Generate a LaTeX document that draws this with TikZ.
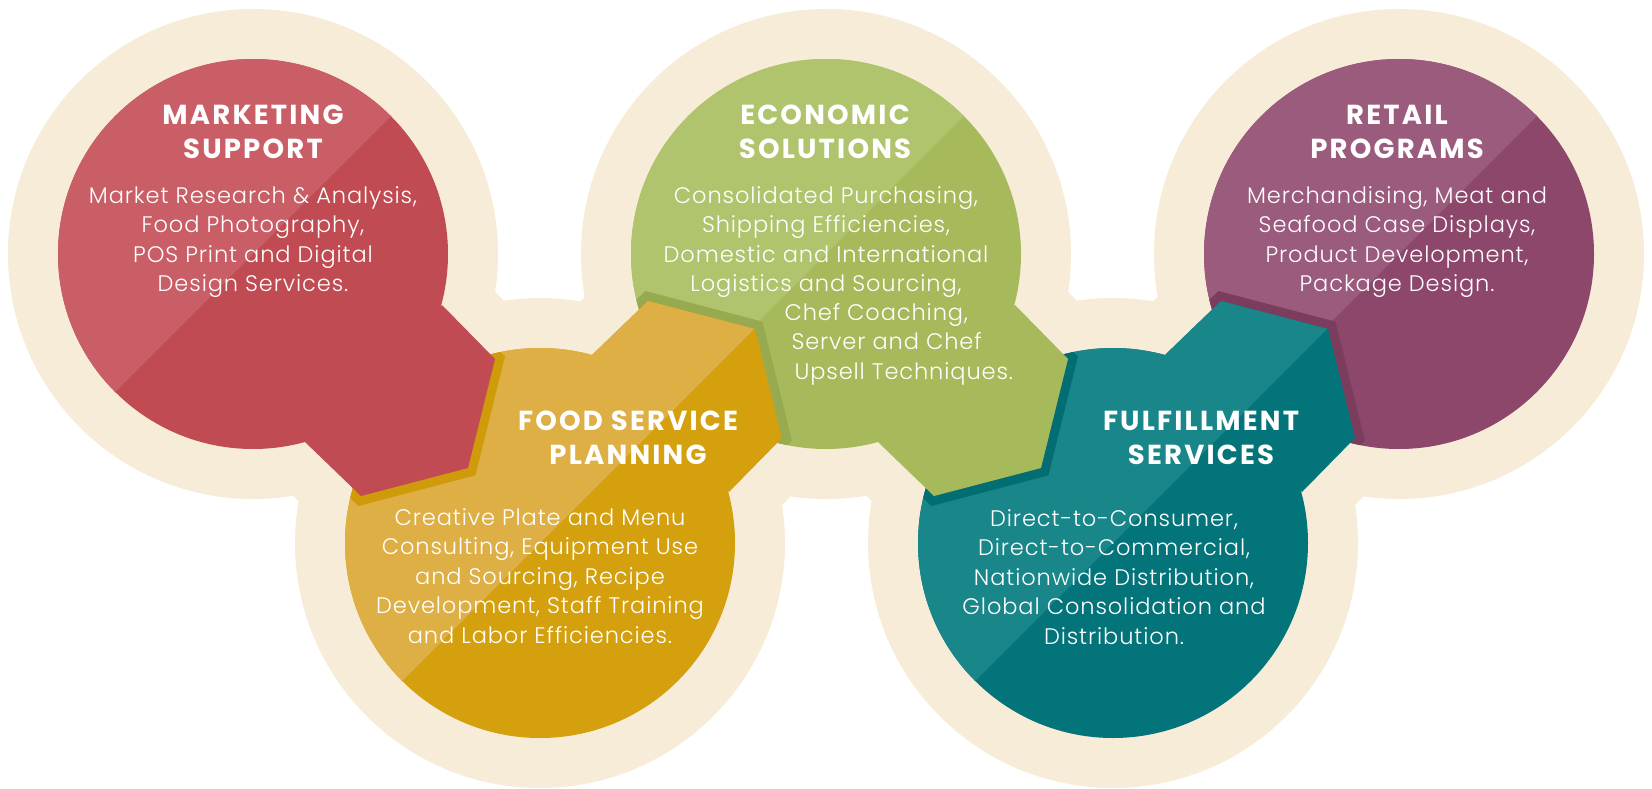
\documentclass[tikz,border=0pt]{standalone}
\usepackage{fontspec}
\setmainfont{Poppins}
\newfontfamily\lightfont{Poppins Light}[LetterSpace=4]
\newfontfamily\headfont{Poppins}[LetterSpace=8]
\usetikzlibrary{positioning}

\definecolor{cream}{HTML}{F6ECD7}
\definecolor{redL}{HTML}{C95E66}
\definecolor{redD}{HTML}{C14B52}
\definecolor{yelL}{HTML}{DEAF45}
\definecolor{yelD}{HTML}{D4A00E}
\definecolor{yelB}{HTML}{CF9B0B}
\definecolor{grnL}{HTML}{B0C46E}
\definecolor{grnD}{HTML}{A6BA5C}
\definecolor{grnB}{HTML}{97AA50}
\definecolor{tealL}{HTML}{19868A}
\definecolor{tealD}{HTML}{037479}
\definecolor{tealB}{HTML}{026E73}
\definecolor{purL}{HTML}{9B5B7D}
\definecolor{purD}{HTML}{8C476A}
\definecolor{purB}{HTML}{7A3D5E}

% pointer of a bubble, down-right or up-right
\newcommand{\tipdown}[1]{([shift={(189,51)}]#1.center) -- ([shift={(242,105)}]#1.center) -- ([shift={(215,214)}]#1.center) -- ([shift={(108,242)}]#1.center) -- ([shift={(52,188)}]#1.center) -- cycle}
\newcommand{\tipup}[1]{([shift={(189,-51)}]#1.center) -- ([shift={(242,-105)}]#1.center) -- ([shift={(215,-214)}]#1.center) -- ([shift={(108,-242)}]#1.center) -- ([shift={(52,-188)}]#1.center) -- cycle}
\newcommand{\lighthalf}[1]{([shift={(-420,420)}]#1.center) -- ([shift={(420,-420)}]#1.center) -- ([shift={(-420,-420)}]#1.center) -- cycle}

\begin{document}
\begin{tikzpicture}[x=1pt,y=-1pt,on grid,
    bubble/.style={circle, fill=cream, minimum size=490pt, inner sep=0pt, outer sep=0pt},
    title/.style={text=white, align=center, font=\headfont\bfseries\fontsize{27.5}{34}\selectfont},
    body/.style={text=white, align=center, font=\lightfont\fontsize{22.5}{29.5}\selectfont}]
  \useasboundingbox (0,0) rectangle (1652,789);

  % cream background
  \node[bubble](1) at (253,254) {};
  \node[bubble](2) [below right=289pt and 287pt of 1] {};
  \node[bubble](3) [above right=289pt and 286pt of 2] {};
  \node[bubble](4) [below right=289pt and 287pt of 3] {};
  \node[bubble](5) [above right=289pt and 286pt of 4] {};
  \filldraw[cream, line width=94pt, line join=round] \tipdown{1} \tipup{2} \tipdown{3} \tipup{4};

  % retail
  \fill[purD] (5.center) circle[radius=195pt];
  \begin{scope} \clip (5.center) circle[radius=195pt]; \fill[purL] \lighthalf{5}; \end{scope}

  % fulfillment
  \begin{scope} \clip (5.center) circle[radius=195pt]; \draw[purB, line width=18pt] \tipup{4}; \end{scope}
  \fill[tealD] (4.center) circle[radius=195pt];
  \fill[tealD] \tipup{4};
  \begin{scope} \clip (4.center) circle[radius=195pt]; \fill[tealL] \lighthalf{4}; \end{scope}
  \begin{scope} \clip \tipup{4}; \fill[tealL] \lighthalf{4}; \end{scope}

  % economic
  \begin{scope} \clip (4.center) circle[radius=195pt]; \draw[tealB, line width=18pt] \tipdown{3}; \end{scope}
  \fill[grnD] (3.center) circle[radius=195pt];
  \fill[grnD] \tipdown{3};
  \begin{scope} \clip (3.center) circle[radius=195pt]; \fill[grnL] \lighthalf{3}; \end{scope}

  % food service
  \begin{scope} \clip (3.center) circle[radius=195pt]; \draw[grnB, line width=18pt] \tipup{2}; \end{scope}
  \fill[yelD] (2.center) circle[radius=195pt];
  \fill[yelD] \tipup{2};
  \begin{scope} \clip (2.center) circle[radius=195pt]; \fill[yelL] \lighthalf{2}; \end{scope}
  \begin{scope} \clip \tipup{2}; \fill[yelL] \lighthalf{2}; \end{scope}

  % marketing
  \begin{scope} \clip (2.center) circle[radius=195pt]; \draw[yelB, line width=18pt] \tipdown{1}; \end{scope}
  \fill[redD] (1.center) circle[radius=195pt];
  \fill[redD] \tipdown{1};
  \begin{scope} \clip (1.center) circle[radius=195pt]; \fill[redL] \lighthalf{1}; \end{scope}

  % texts
  \node[title](t1) at (253,132) {MARKETING\\SUPPORT};
  \node[body](b1) at (253,242) {Market Research \& Analysis,\\Food Photography,\\POS Print and Digital\\Design Services.};
  \node[title](t2) at (628,438) {FOOD SERVICE\\PLANNING};
  \node[body](b2) at (540,576) {Creative Plate and Menu\\Consulting, Equipment Use\\and Sourcing, Recipe\\Development, Staff Training\\and Labor Efficiencies.};
  \node[title](t3) at (825,132) {ECONOMIC\\SOLUTIONS};
  \node[body](b3) at (826,242) {Consolidated Purchasing,\\Shipping Efficiencies,\\Domestic and International\\Logistics and Sourcing,};
  \node[body, align=left, anchor=west](b3a) at (781,344) {Chef Coaching,\\\hspace*{7pt}Server and Chef\\\hspace*{10pt}Upsell Techniques.};
  \node[title](t4) at (1201,438) {FULFILLMENT\\SERVICES};
  \node[body](b4) at (1114,577) {Direct-to-Consumer,\\Direct-to-Commercial,\\Nationwide Distribution,\\Global Consolidation and\\Distribution.};
  \node[title](t5) at (1397,132) {RETAIL\\PROGRAMS};
  \node[body](b5) at (1397,242) {Merchandising, Meat and\\Seafood Case Displays,\\Product Development,\\Package Design.};
\end{tikzpicture}
\end{document}
